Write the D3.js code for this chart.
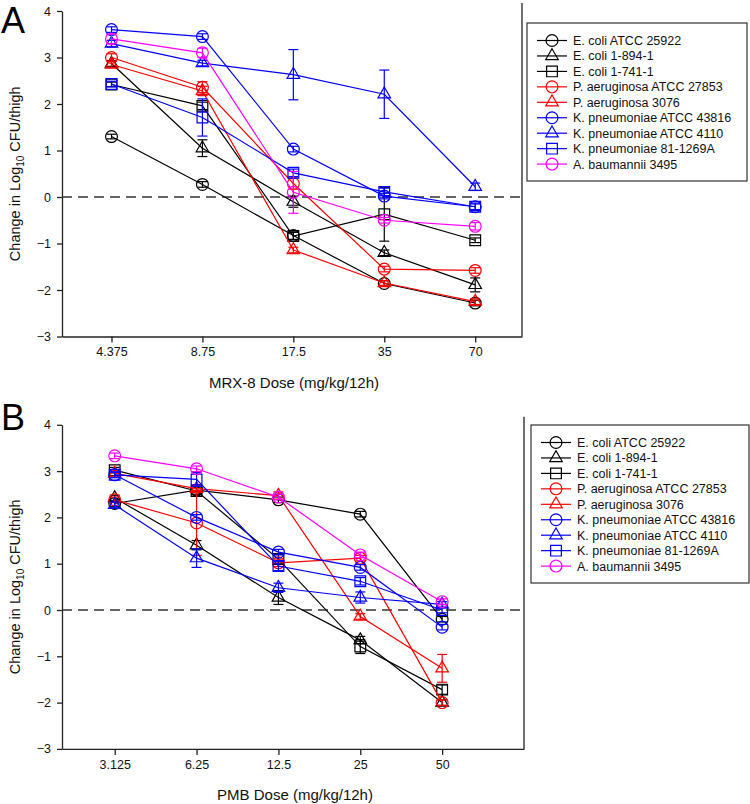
<!DOCTYPE html>
<html>
<head>
<meta charset="utf-8">
<script src="https://cdn.jsdelivr.net/npm/d3@7"></script>
<style>
  body { margin: 0; background: #fff; }
  svg { font-family: "Liberation Sans", Arial, sans-serif; }
</style>
</head>
<body>
<svg id="chart" width="750" height="804"></svg>
<script>
// strains, shared by both panels
var strains = ["E. coli ATCC 25922", "E. coli 1-894-1", "E. coli 1-741-1",
  "P. aeruginosa ATCC 27853", "P. aeruginosa 3076", "K. pneumoniae ATCC 43816",
  "K. pneumoniae ATCC 4110", "K. pneumoniae 81-1269A", "A. baumannii 3495"];
var colors = ["#000", "#000", "#000", "#ff0000", "#ff0000", "#0000ff", "#0000ff", "#0000ff", "#ff00ff"];
var shapes = ["circle", "triangle", "square", "circle", "triangle", "circle", "triangle", "square", "circle"];

var yTicks = [-3, -2, -1, 0, 1, 2, 3, 4];

// panel A : MRX-8
var mrxDoses = [4.375, 8.75, 17.5, 35, 70];
var mrxMean = [
  [1.30, 0.27, -0.83, -1.86, -2.28],
  [2.87, 1.05, -0.10, -1.20, -1.89],
  [2.42, 1.96, -0.84, -0.37, -0.93],
  [3.00, 2.36, 0.29, -1.55, -1.58],
  [2.85, 2.28, -1.14, -1.85, -2.25],
  [3.60, 3.45, 1.03, 0.02, -0.21],
  [3.30, 2.88, 2.63, 2.21, 0.22],
  [2.43, 1.71, 0.52, 0.11, -0.21],
  [3.40, 3.10, 0.10, -0.50, -0.63]
];
var mrxSD = [
  [0.05, 0.06, 0.08, 0.06, 0.06],
  [0.06, 0.18, 0.12, 0.06, 0.15],
  [0.05, 0.08, 0.08, 0.58, 0.05],
  [0.08, 0.12, 0.12, 0.06, 0.06],
  [0.06, 0.10, 0.06, 0.05, 0.06],
  [0.06, 0.06, 0.06, 0.06, 0.06],
  [0.07, 0.06, 0.54, 0.52, 0.08],
  [0.06, 0.40, 0.08, 0.08, 0.08],
  [0.10, 0.10, 0.45, 0.06, 0.08]
];

// panel B : PMB
var pmbDoses = [3.125, 6.25, 12.5, 25, 50];
var pmbMean = [
  [2.30, 2.59, 2.38, 2.07, -0.20],
  [2.42, 1.40, 0.27, -0.65, -2.00],
  [3.02, 2.57, 1.10, -0.79, -1.72],
  [2.38, 1.88, 1.02, 1.12, -2.00],
  [2.95, 2.62, 2.47, -0.14, -1.26],
  [2.92, 2.00, 1.25, 0.92, -0.37],
  [2.27, 1.12, 0.48, 0.27, 0.12],
  [2.92, 2.82, 0.95, 0.62, 0.00],
  [3.33, 3.05, 2.44, 1.19, 0.18]
];
var pmbSD = [
  [0.06, 0.06, 0.06, 0.06, 0.06],
  [0.06, 0.10, 0.15, 0.08, 0.06],
  [0.06, 0.08, 0.10, 0.15, 0.10],
  [0.06, 0.70, 0.08, 0.06, 0.06],
  [0.06, 0.06, 0.08, 0.06, 0.30],
  [0.06, 0.06, 0.06, 0.06, 0.06],
  [0.06, 0.20, 0.10, 0.12, 0.06],
  [0.06, 0.15, 0.10, 0.08, 0.06],
  [0.06, 0.06, 0.06, 0.06, 0.06]
];

var svg = d3.select("#chart");

var symbolFor = function(shape) {
  if (shape == "circle") return d3.symbol().type(d3.symbolCircle).size(110)();
  if (shape == "square") return d3.symbol().type(d3.symbolSquare).size(115)();
  return d3.symbol().type(d3.symbolTriangle).size(68)();
};

var drawPanel = function(opt) {
  var g = svg.append("g");
  var x = d3.scaleLog().domain(opt.xDomain).range([62, opt.xRight]);
  var y = d3.scaleLinear().domain([-3, 4]).range([opt.y0 + 3 * opt.unit, opt.y0 - 4 * opt.unit]);

  // axes
  var xAxis = g.append("g")
    .attr("transform", "translate(0," + y(-3) + ")")
    .call(d3.axisBottom(x).tickValues(opt.doses).tickFormat(function(d) { return d; })
      .tickSizeInner(6).tickSizeOuter(0).tickPadding(5));
  var yAxis = g.append("g")
    .attr("transform", "translate(62,0)")
    .call(d3.axisLeft(y).tickValues(yTicks).tickFormat(d3.format("d"))
      .tickSizeInner(5).tickSizeOuter(0).tickPadding(6));
  [xAxis, yAxis].forEach(function(a) {
    a.selectAll("path, line").attr("stroke", "#222").attr("stroke-width", 1.3);
    a.selectAll("text").attr("font-size", 12.5).attr("fill", "#111")
      .attr("font-family", "Liberation Sans, Arial, sans-serif");
  });
  // right frame line
  g.append("line")
    .attr("x1", opt.xRight).attr("x2", opt.xRight)
    .attr("y1", y(4) - 8).attr("y2", y(-3))
    .attr("stroke", "#222").attr("stroke-width", 1.3);

  // zero line
  g.append("line")
    .attr("x1", 62).attr("x2", opt.xRight)
    .attr("y1", y(0)).attr("y2", y(0))
    .attr("stroke", "#333").attr("stroke-width", 1.5)
    .attr("stroke-dasharray", "10,6");

  var line = d3.line()
    .x(function(d) { return x(d.dose); })
    .y(function(d) { return y(d.v); });

  strains.forEach(function(name, i) {
    var pts = opt.doses.map(function(dose, j) {
      return { dose: dose, v: opt.mean[i][j], sd: opt.sd[i][j] };
    });
    var c = colors[i];
    var s = g.append("g");
    s.append("path").datum(pts).attr("d", line)
      .attr("fill", "none").attr("stroke", c).attr("stroke-width", 1.2);
    // error bars
    pts.forEach(function(p) {
      var cx = x(p.dose);
      s.append("line").attr("x1", cx).attr("x2", cx)
        .attr("y1", y(p.v - p.sd)).attr("y2", y(p.v + p.sd))
        .attr("stroke", c).attr("stroke-width", 1.2);
      [p.v - p.sd, p.v + p.sd].forEach(function(e) {
        s.append("line").attr("x1", cx - 5).attr("x2", cx + 5)
          .attr("y1", y(e)).attr("y2", y(e))
          .attr("stroke", c).attr("stroke-width", 1.2);
      });
    });
    s.selectAll(".pt").data(pts).enter().append("path")
      .attr("transform", function(d) { return "translate(" + x(d.dose) + "," + y(d.v) + ")"; })
      .attr("d", symbolFor(shapes[i]))
      .attr("fill", "none").attr("stroke", c).attr("stroke-width", 1.2);
  });

  // axis titles
  g.append("text")
    .attr("x", (62 + opt.xRight) / 2 + 2).attr("y", y(-3) + 51)
    .attr("text-anchor", "middle").attr("font-size", 15).attr("fill", "#111")
    .text(opt.xTitle);
  var yt = g.append("text")
    .attr("transform", "translate(20," + (y(4) + y(-3)) / 2 + ") rotate(-90)")
    .attr("text-anchor", "middle").attr("font-size", 14.5).attr("fill", "#111");
  yt.append("tspan").text("Change in Log");
  yt.append("tspan").attr("font-size", 10).attr("dy", 4).text("10");
  yt.append("tspan").attr("dy", -4).text(" CFU/thigh");

  // panel letter
  g.append("text").attr("x", 1).attr("y", opt.letterY)
    .attr("font-size", 36).attr("fill", "#000").text(opt.letter);

  // legend
  var lg = g.append("g");
  lg.append("rect")
    .attr("x", opt.legX).attr("y", opt.legY).attr("width", opt.legW).attr("height", 158)
    .attr("fill", "#fff").attr("stroke", "#333").attr("stroke-width", 1.2);
  strains.forEach(function(name, i) {
    var ly = opt.legY + 17.5 + i * 15.45;
    lg.append("line").attr("x1", opt.legX + 10).attr("x2", opt.legX + 40)
      .attr("y1", ly).attr("y2", ly).attr("stroke", colors[i]).attr("stroke-width", 1.2);
    lg.append("path").attr("transform", "translate(" + (opt.legX + 25) + "," + ly + ")")
      .attr("d", symbolFor(shapes[i]))
      .attr("fill", "none").attr("stroke", colors[i]).attr("stroke-width", 1.2);
    lg.append("text").attr("x", opt.legX + 46).attr("y", ly + 4.5)
      .attr("font-size", 12.5).attr("fill", "#111").text(name);
  });
};

drawPanel({
  doses: mrxDoses, mean: mrxMean, sd: mrxSD,
  xDomain: [3, 100], xRight: 522, y0: 197, unit: 46.5,
  xTitle: "MRX-8 Dose (mg/kg/12h)", letter: "A", letterY: 33,
  legX: 527, legY: 23, legW: 220
});
drawPanel({
  doses: pmbDoses, mean: pmbMean, sd: pmbSD,
  xDomain: [2, 100], xRight: 524, y0: 610, unit: 46.3,
  xTitle: "PMB Dose (mg/kg/12h)", letter: "B", letterY: 430,
  legX: 531, legY: 425, legW: 218
});
</script>
</body>
</html>
